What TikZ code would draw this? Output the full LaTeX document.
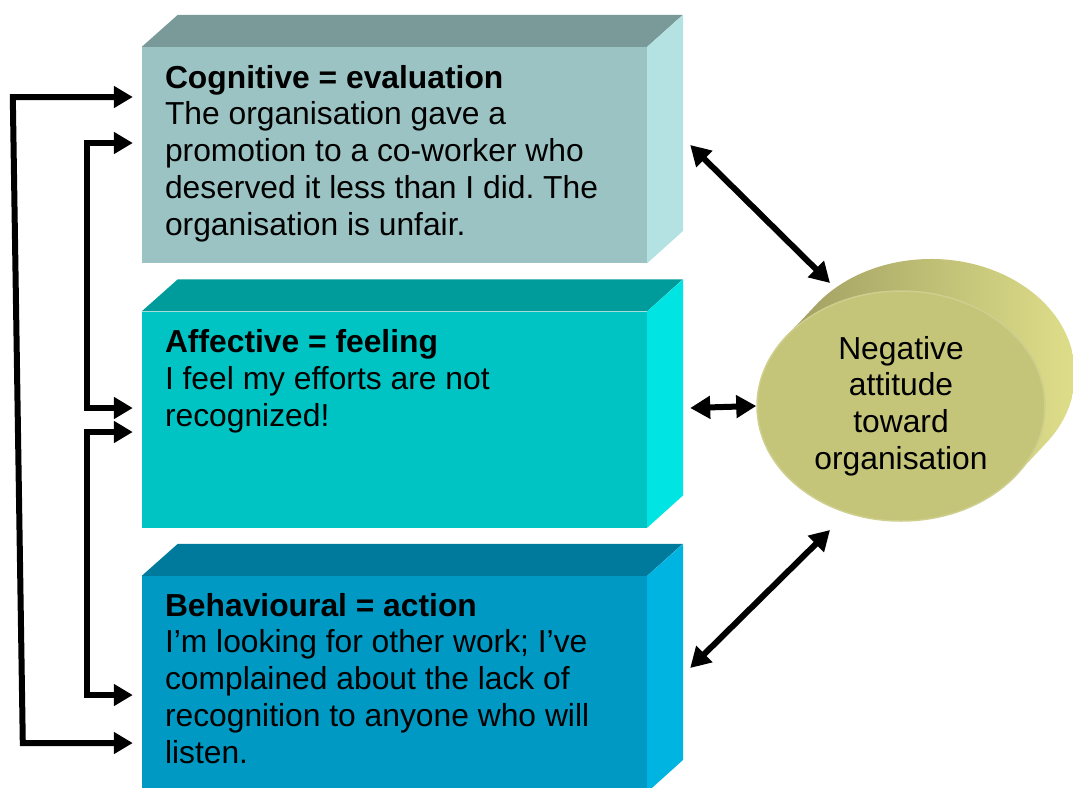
\documentclass[tikz,border=0pt]{standalone}
\usepackage{fontspec}
\setmainfont{Liberation Sans}
\usetikzlibrary{arrows.meta,calc,shapes.geometric}
\frenchspacing

\definecolor{cogfront}{HTML}{9CC3C3}
\definecolor{cogtop}{HTML}{7A9A9A}
\definecolor{cogside}{HTML}{B4E2E2}
\definecolor{afffront}{HTML}{00C4C4}
\definecolor{afftop}{HTML}{009C9C}
\definecolor{affside}{HTML}{00E4E4}
\definecolor{behfront}{HTML}{0099C4}
\definecolor{behtop}{HTML}{007A9C}
\definecolor{behside}{HTML}{00B4E2}
\definecolor{attfront}{HTML}{C5C57A}
\definecolor{attdark}{HTML}{A09F62}
\definecolor{attlight}{HTML}{E2E28C}

\begin{document}
\begin{tikzpicture}[x=1pt,y=-1pt,
    face/.style={minimum width=505pt, minimum height=216pt, inner sep=0pt},
    boxtext/.style={anchor=north west, inner sep=0pt, align=left,
      font=\fontsize{31.8}{36.8}\selectfont},
    feedback/.style={line width=6pt,
      {Triangle[length=19pt,width=21pt]}-{Triangle[length=19pt,width=21pt]}},
    mutual/.style={line width=6pt,
      {Triangle[length=20pt,width=22pt]}-{Triangle[length=20pt,width=22pt]}}]
  \useasboundingbox (0,0) rectangle (1073,787);

  % Cognitive box
  \node[face, fill=cogfront] (cog) at (394.5,155) {};
  \fill[cogtop] (cog.north west) -- ++(36,-32) -- ++(505,0) -- (cog.north east) -- cycle;
  \fill[cogside] (cog.north east) -- ++(36,-32) -- ++(0,216) -- (cog.south east) -- cycle;
  \node[boxtext] (cogtxt) at ($(cog.north west)+(23,18)$)
    {\textbf{Cognitive = evaluation}\\The organisation gave a\\promotion to a co-worker who\\deserved it less than I did. The\\organisation is unfair.};

  % Affective box
  \node[face, fill=afffront] (aff) at (394.5,419.5) {};
  \fill[afftop] (aff.north west) -- ++(36,-32) -- ++(505,0) -- (aff.north east) -- cycle;
  \fill[affside] (aff.north east) -- ++(36,-32) -- ++(0,216) -- (aff.south east) -- cycle;
  \node[boxtext] (afftxt) at ($(aff.north west)+(23,18)$)
    {\textbf{Affective = feeling}\\I feel my efforts are not\\recognized!};

  % Behavioural box
  \node[face, fill=behfront] (beh) at (394.5,684) {};
  \fill[behtop] (beh.north west) -- ++(36,-32) -- ++(505,0) -- (beh.north east) -- cycle;
  \fill[behside] (beh.north east) -- ++(36,-32) -- ++(0,216) -- (beh.south east) -- cycle;
  \node[boxtext] (behtxt) at ($(beh.north west)+(23,17)$)
    {\textbf{Behavioural = action}\\I’m looking for other work; I’ve\\complained about the lack of\\recognition to anyone who will\\listen.};

  % Attitude cylinder
  \coordinate (attc) at (901,406);
  \shade[left color=attdark, right color=attlight]
    ($(attc)+(-115.3,-68.9)$) -- ++(30,-32)
    arc[start angle=216.8, end angle=396.8, x radius=144, y radius=115]
    -- ($(attc)+(115.3,68.9)$) -- cycle;
  \node[ellipse, minimum width=288pt, minimum height=230pt, inner sep=0pt,
    fill=attfront, draw=attfront!85!white, line width=1.5pt, align=center,
    font=\fontsize{31.8}{36.8}\selectfont] (att) at (attc)
    {Negative\\attitude\\toward\\organisation};

  % Links to the attitude
  \draw[mutual] ($(cog.east)+(43,-10)$) -- ($(att.center)+(-71,-123)$);
  \draw[mutual] ($(aff.east)+(43,-11.5)$) -- (att.west);
  \draw[mutual] ($(beh.east)+(43,-16)$) -- ($(att.center)+(-71,124)$);

  % Feedback between the components
  \draw[feedback] ($(cog.west)+(-9,-58)$) -- ++(-120,0) -- ++(10,646) -- ($(beh.west)+(-9,59)$);
  \draw[feedback] ($(cog.west)+(-9,-12)$) -- ++(-46,0) |- ($(aff.west)+(-9,-11.5)$);
  \draw[feedback] ($(aff.west)+(-9,12.5)$) -- ++(-46,0) |- ($(beh.west)+(-9,11)$);
\end{tikzpicture}
\end{document}
